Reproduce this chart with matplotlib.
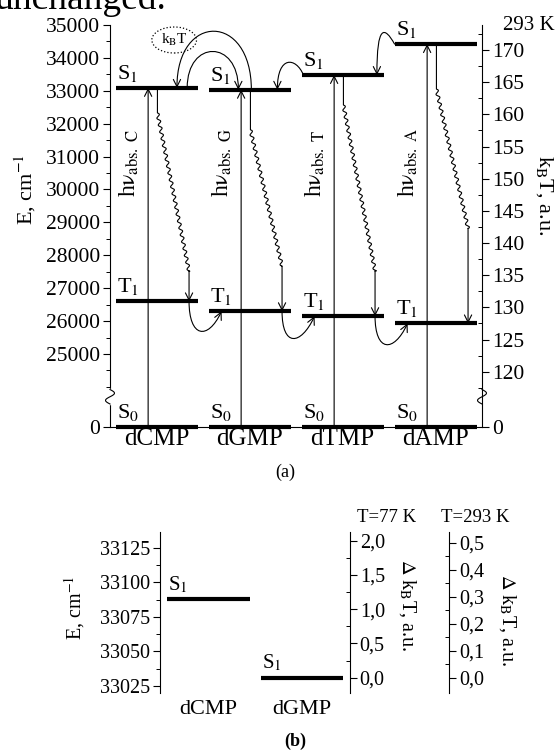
import numpy as np
import matplotlib.pyplot as plt
from matplotlib.path import Path
from matplotlib.patches import FancyArrowPatch, Ellipse
from matplotlib.ticker import FixedLocator

plt.rcParams['font.family'] = ['Liberation Serif', 'DejaVu Serif']
plt.rcParams['mathtext.fontset'] = 'stix'

# panel (a): level energies, cm-1
molecules = ['dCMP', 'dGMP', 'dTMP', 'dAMP']
bases = ['C', 'G', 'T', 'A']
s1 = [33088, 33031, 33480, 34420]
t1 = [26600, 26300, 26150, 25930]
s0 = [0, 0, 0, 0]
e_ticks = [0, 25000, 26000, 27000, 28000, 29000, 30000, 31000, 32000, 33000, 34000, 35000]
kt_ticks = [0, 120, 125, 130, 135, 140, 145, 150, 155, 160, 165, 170]
kt293 = 195.6      # cm-1 per kBT unit
kt_offset = 988    # cm-1 at kBT = 0 of the right axis scale

# panel (b)
b_molecules = ['dCMP', 'dGMP']
b_s1 = [33088, 33031]
b_e_ticks = [33025, 33050, 33075, 33100, 33125]
dkt77_ticks = [0.0, 0.5, 1.0, 1.5, 2.0]
dkt293_ticks = [0.0, 0.1, 0.2, 0.3, 0.4, 0.5]
kt77 = 49.65

# broken energy axis: everything below BRK is squeezed
BRK = 23700
LOW = 22781


def fwd(e):
    e = np.asarray(e, float)
    return np.where(e >= BRK, e, LOW + e * (BRK - LOW) / BRK)


def inv(c):
    c = np.asarray(c, float)
    return np.where(c >= BRK, c, (c - LOW) * BRK / (BRK - LOW))


def comma(v):
    return f'{v:.1f}'.replace('.', ',')


def curve_arrow(ax, pts, lw=0.8):
    codes = [Path.MOVETO, Path.CURVE4, Path.CURVE4, Path.CURVE4]
    p = FancyArrowPatch(path=Path(pts, codes), arrowstyle='->', mutation_scale=13,
                        lw=lw, color='k', clip_on=False)
    ax.add_patch(p)


def wavy_arrow(ax, x0, y0, x1, y1, lead, tail, amp=1.6, wl=7.0):
    # build the squiggle in pixels, then go back to data coords
    p0 = ax.transData.transform((x0, y0))
    p1 = ax.transData.transform((x1, y1))
    a = p0 + np.array([0, -lead])
    b = p1 + np.array([0, tail])
    seg = b - a
    L = np.hypot(*seg)
    perp = np.array([-seg[1], seg[0]]) / L
    t = np.linspace(0, 1, 600)
    pts = a + np.outer(t, seg) + np.outer(amp * np.sin(2 * np.pi * L * t / wl), perp)
    pts = np.vstack([p0, pts, b])
    d = ax.transData.inverted().transform(pts)
    ax.plot(d[:, 0], d[:, 1], color='k', lw=0.8, clip_on=False)
    ax.annotate('', xy=(x1, y1), xytext=(d[-1, 0], d[-1, 1]),
                arrowprops=dict(arrowstyle='->', lw=0.8, mutation_scale=13,
                                shrinkA=0, shrinkB=0, color='k'))


def break_mark(ax, xpos, yb):
    tr = ax.transAxes
    ax.plot([xpos, xpos], [yb - 0.016, yb + 0.016], color='white', lw=2.5,
            transform=tr, clip_on=False, zorder=5)
    tt = np.linspace(0, 1, 60)
    ax.plot(xpos - 0.012 * np.sin(2 * np.pi * tt), yb - 0.018 + 0.036 * tt, color='k',
            lw=0.8, transform=tr, clip_on=False, zorder=6)


fig = plt.figure(figsize=(5.6, 7.51), dpi=100)
fig.text(-6 / 560, 1 - 9 / 751, 'unchanged.', fontsize=27, va='baseline')

# ---------------- panel (a) ----------------
ax = fig.add_axes([110 / 560, 1 - 427 / 751, 372 / 560, 402 / 751])
ax.set_yscale('function', functions=(fwd, inv))
ax.set_ylim(0, 35000)
ax.set_xlim(0, 4)
ax2 = ax.twinx()
ax2.set_yscale('function', functions=(fwd, inv))
ax2.set_ylim(0, 35000)

ax.spines['top'].set_visible(False)
ax.spines['right'].set_visible(False)
for s in ['top', 'left', 'bottom']:
    ax2.spines[s].set_visible(False)
for a in (ax, ax2):
    for s in a.spines.values():
        s.set_linewidth(0.8)

ax.set_yticks(e_ticks, [str(v) for v in e_ticks])
ax.yaxis.set_minor_locator(FixedLocator(np.arange(24000, 35001, 500)))
ax.tick_params(axis='y', which='major', direction='out', length=5, width=0.8,
               labelsize=15.5, pad=2)
ax.tick_params(axis='y', which='minor', direction='out', length=3, width=0.7)
ax.set_xticks([i + 0.5 for i in range(4)], molecules)
ax.tick_params(axis='x', length=0, labelsize=18, pad=1)

kt_pos = [0 if r == 0 else kt_offset + kt293 * r for r in kt_ticks]
ax2.set_yticks(kt_pos, [str(r) for r in kt_ticks])
ax2.yaxis.set_minor_locator(FixedLocator([kt_offset + kt293 * (r + 2.5) for r in kt_ticks[1:]] +
                                         [kt_offset + kt293 * 117.5]))
ax2.tick_params(axis='y', which='major', direction='out', length=5, width=0.8,
                labelsize=15.5, pad=2)
ax2.tick_params(axis='y', which='minor', direction='in', length=3, width=0.7)

ax.text(-0.228, 0.59, 'E, cm$^{-1}$', transform=ax.transAxes, rotation=90,
        ha='center', va='center', fontsize=16)
ax.text(1.169, 0.577, 'k$_\\mathrm{B}$T, a.u.', transform=ax.transAxes, rotation=-90,
        ha='center', va='center', fontsize=16)
ax.text(1.056, 1.0, '293 K', transform=ax.transAxes, ha='left', va='center', fontsize=15)

x0s = [i + 0.06 for i in range(4)]
x1s = [i + 0.95 for i in range(4)]
for lev, name in [(s1, 'S$_1$'), (t1, 'T$_1$'), (s0, 'S$_0$')]:
    ax.hlines(lev, x0s, x1s, color='k', lw=3, clip_on=False, zorder=4)
    for i in range(4):
        ax.annotate(name, (i + 0.07, lev[i]), xytext=(0, 3), textcoords='offset points',
                    fontsize=16, va='bottom', ha='left')

# absorption arrows
for i in range(4):
    ax.annotate('', xy=(i + 0.41, s1[i]), xytext=(i + 0.41, s0[i]),
                arrowprops=dict(arrowstyle='->', lw=0.8, mutation_scale=13,
                                shrinkA=0, shrinkB=0, color='k'))
    ax.text(i + 0.21, 29770, 'h$\\mathrm{\\nu}_{\\mathrm{abs.\\ ' + bases[i] + '}}$',
            rotation=90, ha='center', va='bottom', fontsize=17)

# S1 -> T1 wavy arrows
leads = [25, 40, 30, 45]
tails = [30, 45, 45, 95]
for i in range(4):
    wavy_arrow(ax, i + 0.51, s1[i], i + 0.85, t1[i], leads[i], tails[i])

# T1 -> T1 of the next one
for i in range(3):
    curve_arrow(ax, [(i + 0.85, t1[i]), (i + 0.85, t1[i] - 1100),
                     (i + 1.05, t1[i + 1] - 900), (i + 1.2, t1[i + 1])])

# S1 <-> S1 arcs on top
top01 = max(s1[0], s1[1])
curve_arrow(ax, [(1.52, s1[1]), (1.52, top01 + 2300), (0.72, top01 + 2300), (0.72, s1[0])])
curve_arrow(ax, [(0.83, s1[0]), (0.83, top01 + 1480), (1.38, top01 + 1480), (1.38, s1[1])])
curve_arrow(ax, [(2.08, s1[2]), (2.0, s1[2] + 550), (1.8, s1[2] + 600), (1.8, s1[1])])
curve_arrow(ax, [(3.06, s1[3]), (2.95, s1[3] + 550), (2.87, s1[3] + 600), (2.87, s1[2])])

ax.add_patch(Ellipse((0.69, 34544), 0.48, 790, fill=False, ls=':', lw=0.9, clip_on=False))
ax.text(0.69, 34544, 'k$_\\mathrm{B}$T', ha='center', va='center', fontsize=11)

yb = ax.transAxes.inverted().transform(ax.transData.transform((0, BRK)))[1]
break_mark(ax, 0.0, yb)
break_mark(ax, 1.0, yb)

fig.text(285 / 560, 1 - 472 / 751, '(a)', ha='center', va='center', fontsize=13)

# ---------------- panel (b) ----------------
axb = fig.add_axes([160 / 560, 1 - 693 / 751, 190 / 560, 161 / 751])
axb.set_xlim(-0.02, 2.02)
axb.set_ylim(33019.9, 33136.6)
for s in ['top', 'bottom', 'right']:
    axb.spines[s].set_visible(False)
axb.spines['left'].set_linewidth(0.8)
axb.hlines(b_s1, [i + 0.06 for i in range(2)], [i + 0.95 for i in range(2)], color='k', lw=3)
for i in range(2):
    axb.annotate('S$_1$', (i + 0.07, b_s1[i]), xytext=(0, 3), textcoords='offset points',
                 fontsize=15, va='bottom', ha='left')
axb.set_yticks(b_e_ticks, [str(v) for v in b_e_ticks])
axb.yaxis.set_minor_locator(FixedLocator(np.arange(33012.5, 33140, 12.5)))
axb.tick_params(axis='y', which='major', direction='out', length=5, width=0.8,
                labelsize=14.5, pad=2)
axb.tick_params(axis='y', which='minor', direction='out', length=3, width=0.7)
axb.set_xticks([i + 0.5 for i in range(2)], b_molecules)
axb.tick_params(axis='x', length=0, labelsize=16, pad=5)
axb.text(-0.447, 0.528, 'E, cm$^{-1}$', transform=axb.transAxes, rotation=90,
         ha='center', va='center', fontsize=14.5)

lo, hi = axb.get_ylim()
ax3 = axb.twinx()
ax3.set_ylim((lo - b_s1[1]) / kt77, (hi - b_s1[1]) / kt77)
ax3.set_yticks(dkt77_ticks, [comma(v) for v in dkt77_ticks])
ax3.yaxis.set_minor_locator(FixedLocator(np.arange(0.25, 2.0, 0.5)))

ax4 = axb.twinx()
ax4.set_ylim((lo - b_s1[1]) / kt293, (hi - b_s1[1]) / kt293)
ax4.spines['right'].set_position(('outward', 71.3))
ax4.set_yticks(dkt293_ticks, [comma(v) for v in dkt293_ticks])
ax4.yaxis.set_minor_locator(FixedLocator(np.arange(0.05, 0.5, 0.1)))

for a in (ax3, ax4):
    for s in ['top', 'left', 'bottom']:
        a.spines[s].set_visible(False)
    a.spines['right'].set_linewidth(0.8)
    a.tick_params(axis='y', which='major', direction='out', length=5, width=0.8,
                  labelsize=14.5, pad=2)
    a.tick_params(axis='y', which='minor', direction='in', length=3, width=0.7)

ax3.text(1.305, 0.547, '$\\Delta$ k$_\\mathrm{B}$T, a.u.', transform=ax3.transAxes,
         rotation=-90, ha='center', va='center', fontsize=14.5)
ax3.text(1.829, 0.453, '$\\Delta$ k$_\\mathrm{B}$T, a.u.', transform=ax3.transAxes,
         rotation=-90, ha='center', va='center', fontsize=14.5)

fig.text(357 / 560, 1 - 517 / 751, 'T=77 K', ha='left', va='center', fontsize=13.5)
fig.text(441 / 560, 1 - 517 / 751, 'T=293 K', ha='left', va='center', fontsize=13.5)
fig.text(295 / 560, 1 - 741 / 751, '(b)', ha='center', va='center', fontsize=13,
         fontweight='bold')

fig.savefig('out.png', dpi=100)
